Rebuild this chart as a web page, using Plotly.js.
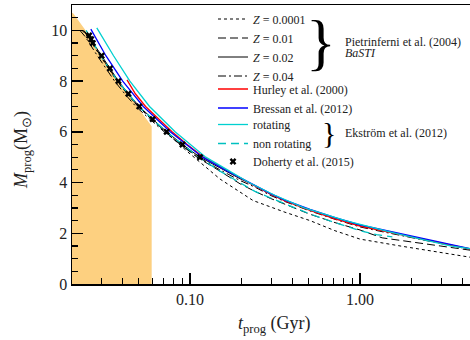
<!DOCTYPE html>
<html>
<head>
<meta charset="utf-8">
<script src="https://cdn.plot.ly/plotly-3.0.1.min.js"></script>
<style>html,body{margin:0;padding:0;overflow:hidden;background:#fff}#chart{width:474px;height:340px}</style>
</head>
<body>
<div id="chart"></div>
<script>
// Shaded region (upper boundary)
const tShade = [0.0202, 0.0206, 0.0241, 0.0309, 0.0388, 0.0486, 0.0582, 0.0595];
const mShade = [10.70, 10.66, 10.03, 8.84, 7.92, 7.00, 6.28, 6.22];

// Pietrinferni et al. (2004) BaSTI
const tZ0001 = [0.0232, 0.0250, 0.0296, 0.0332, 0.0372, 0.0426, 0.0494, 0.0592, 0.0715, 0.0973, 0.150, 0.235, 0.362, 0.508, 0.713, 1.00, 1.72, 2.96, 4.70];
const mZ0001 = [10.0, 9.75, 9.0, 8.5, 8.0, 7.5, 7.0, 6.5, 6.0, 5.2, 4.14, 3.29, 2.83, 2.50, 2.10, 1.77, 1.50, 1.24, 1.03];

const tZ001 = [0.0235, 0.0252, 0.0298, 0.0334, 0.0374, 0.0428, 0.0496, 0.0594, 0.0716, 0.088, 0.110, 0.150, 0.197, 0.241, 0.296, 0.370, 0.508, 0.713, 1.00, 1.35, 1.97, 2.96, 4.70];
const mZ001 = [10.0, 9.75, 9.0, 8.5, 8.0, 7.5, 7.0, 6.5, 6.0, 5.5, 5.0, 4.45, 3.95, 3.65, 3.38, 3.12, 2.75, 2.42, 2.13, 1.82, 1.68, 1.50, 1.31];

const tZ002 = [0.0237, 0.0255, 0.0302, 0.0338, 0.0379, 0.0434, 0.0503, 0.0603, 0.0729, 0.0903, 0.1145, 0.150, 0.197, 0.241, 0.296, 0.362, 0.508, 0.713, 1.00, 1.31, 1.97, 2.96, 4.70];
const mZ002 = [10.0, 9.75, 9.0, 8.5, 8.0, 7.5, 7.0, 6.5, 6.0, 5.5, 5.0, 4.58, 4.15, 3.88, 3.55, 3.29, 2.92, 2.60, 2.30, 2.13, 1.88, 1.63, 1.34];

const tZ004 = [0.0225, 0.0242, 0.0285, 0.0320, 0.0360, 0.0413, 0.0480, 0.0580, 0.0705, 0.088, 0.112, 0.150, 0.197, 0.241, 0.296, 0.362, 0.508, 0.713, 1.00, 1.31, 1.97, 2.96, 4.70];
const mZ004 = [10.0, 9.75, 9.0, 8.5, 8.0, 7.5, 7.0, 6.5, 6.0, 5.5, 5.0, 4.50, 4.08, 3.82, 3.50, 3.25, 2.88, 2.55, 2.25, 2.08, 1.85, 1.60, 1.33];

// Hurley et al. (2000)
const tHurley = [0.0426, 0.0477, 0.0548, 0.0654, 0.0784, 0.0962, 0.1202, 0.163, 0.220, 0.296, 0.362, 0.508, 0.713, 1.00, 1.31, 1.97, 2.96, 4.70];
const mHurley = [8.05, 7.5, 7.0, 6.5, 6.0, 5.5, 5.0, 4.5, 4.0, 3.55, 3.28, 2.90, 2.57, 2.28, 2.11, 1.87, 1.62, 1.35];

// Bressan et al. (2012)
const tBressan = [0.0261, 0.0320, 0.0402, 0.0531, 0.0765, 0.1185, 0.161, 0.241, 0.296, 0.362, 0.508, 0.713, 1.00, 1.31, 1.97, 2.96, 4.70];
const mBressan = [10.05, 9.0, 8.0, 7.0, 6.0, 5.0, 4.5, 3.90, 3.57, 3.31, 2.94, 2.62, 2.33, 2.16, 1.90, 1.65, 1.36];

// Ekström et al. (2012)
const tRot = [0.0283, 0.0355, 0.0443, 0.0578, 0.0817, 0.1237, 0.166, 0.222, 0.315, 0.470, 0.820, 1.62, 3.40, 4.70];
const mRot = [10.1, 9.0, 8.0, 7.0, 6.0, 5.0, 4.5, 4.0, 3.5, 3.0, 2.5, 2.0, 1.5, 1.37];

const tNonRot = [0.0245, 0.0298, 0.0376, 0.0500, 0.0725, 0.113, 0.150, 0.197, 0.241, 0.296, 0.370, 0.508, 0.713, 1.00, 1.25, 1.55];
const mNonRot = [10.0, 9.0, 8.0, 7.0, 6.0, 5.0, 4.45, 3.98, 3.65, 3.40, 3.14, 2.76, 2.42, 2.10, 1.95, 1.86];

// Doherty et al. (2015)
const tDoherty = [0.0255, 0.0262, 0.0268, 0.0302, 0.0338, 0.0379, 0.0434, 0.0503, 0.0603, 0.0729, 0.0903, 0.1145];
const mDoherty = [9.8, 9.65, 9.5, 9.0, 8.5, 8.0, 7.5, 7.0, 6.5, 6.0, 5.5, 5.0];

// Axis ticks
const xTickVals = [0.1, 1];
const xTickText = ['0.10', '1.00'];
const xMinorVals = [0.03, 0.04, 0.05, 0.06, 0.07, 0.08, 0.09, 0.2, 0.3, 0.4, 0.5, 0.6, 0.7, 0.8, 0.9, 2, 3, 4];
const yTickVals = [0, 2, 4, 6, 8, 10];

const FONT = 'Liberation Serif';

const traces = [
  {x: tShade, y: mShade, mode: 'lines', fill: 'tozeroy', fillcolor: 'rgb(253,208,128)', line: {width: 0, color: 'rgb(253,208,128)'}, showlegend: false, hoverinfo: 'skip'},
  {x: tZ0001, y: mZ0001, mode: 'lines', name: '<i>Z</i> = 0.0001', legend: 'legend', line: {color: '#000', width: 1, dash: '3px,3px'}},
  {x: tZ001, y: mZ001, mode: 'lines', name: '<i>Z</i> = 0.01', legend: 'legend', line: {color: '#000', width: 1, dash: '8px,4px'}},
  {x: tZ002, y: mZ002, mode: 'lines', name: '<i>Z</i> = 0.02', legend: 'legend', line: {color: '#000', width: 1}},
  {x: tZ004, y: mZ004, mode: 'lines', name: '<i>Z</i> = 0.04', legend: 'legend', line: {color: '#000', width: 1, dash: '8px,3px,2px,3px'}},
  {x: tHurley, y: mHurley, mode: 'lines', name: 'Hurley et al. (2000)', legend: 'legend2', line: {color: '#ff0000', width: 1.3}},
  {x: tBressan, y: mBressan, mode: 'lines', name: 'Bressan et al. (2012)', legend: 'legend2', line: {color: '#0000ff', width: 1.3}},
  {x: tRot, y: mRot, mode: 'lines', name: 'rotating', legend: 'legend3', line: {color: '#00d0d0', width: 1.3}},
  {x: tNonRot, y: mNonRot, mode: 'lines', name: 'non rotating', legend: 'legend3', line: {color: '#00c0c0', width: 1.3, dash: '8px,5px'}},
  {x: tDoherty, y: mDoherty, mode: 'markers', name: 'Doherty et al. (2015)', legend: 'legend4', marker: {symbol: 'x', size: 6, color: '#000'}}
];

const W = 474, L = 72, T = 5, B = 56;
const pw = W - L, ph = 340 - T - B;
const px = v => (v - L) / pw;
const py = v => (340 - B - v) / ph;

const legendBase = top => ({x: px(213), y: py(top), xanchor: 'left', yanchor: 'top', bgcolor: 'rgba(0,0,0,0)', font: {family: FONT, size: 12, color: '#222'}, tracegroupgap: 0, itemwidth: 30});

const layout = {
  width: W, height: 340,
  margin: {l: L, r: 0, t: T, b: B},
  paper_bgcolor: '#fff', plot_bgcolor: '#fff',
  font: {family: FONT, color: '#222'},
  showlegend: true,
  legend: legendBase(4.5),
  legend2: legendBase(74.5),
  legend3: legendBase(110),
  legend4: legendBase(147),
  xaxis: {
    type: 'log', range: [-1.6941, 0.6706],
    tickmode: 'array', tickvals: xTickVals, ticktext: xTickText,
    ticks: 'inside', ticklen: 11, tickwidth: 1.5, tickcolor: '#000',
    minor: {tickmode: 'array', tickvals: xMinorVals, ticks: 'inside', ticklen: 6, tickwidth: 1.2, tickcolor: '#000', showgrid: false},
    showline: true, linecolor: '#000', linewidth: 1.5, mirror: true,
    showgrid: false, zeroline: false,
    tickfont: {family: FONT, size: 16, color: '#222'}
  },
  yaxis: {
    range: [0, 11],
    tickmode: 'array', tickvals: yTickVals,
    ticks: 'inside', ticklen: 11, tickwidth: 1.5, tickcolor: '#000',
    minor: {dtick: 0.5, ticks: 'inside', ticklen: 6, tickwidth: 1.2, tickcolor: '#000', showgrid: false},
    showline: true, linecolor: '#000', linewidth: 1.5, mirror: true,
    showgrid: false, zeroline: false,
    tickfont: {family: FONT, size: 16, color: '#222'}
  },
  annotations: [
    {xref: 'paper', yref: 'paper', x: px(22), y: py(150), text: '<i>M</i><sub>prog</sub>(M<sub>⊙</sub>)', textangle: -90, showarrow: false, font: {family: FONT, size: 18, color: '#222'}, xanchor: 'center', yanchor: 'middle'},
    {xref: 'paper', yref: 'paper', x: px(274), y: py(324), text: '<i>t</i><sub>prog</sub> (Gyr)', showarrow: false, font: {family: FONT, size: 18, color: '#222'}, xanchor: 'center', yanchor: 'middle'},
    {xref: 'paper', yref: 'paper', x: px(321), y: py(42), text: '}', showarrow: false, font: {family: FONT, size: 62, color: '#000'}, xanchor: 'center', yanchor: 'middle'},
    {xref: 'paper', yref: 'paper', x: px(343), y: py(42), text: 'Pietrinferni et al. (2004)', showarrow: false, font: {family: FONT, size: 12, color: '#222'}, xanchor: 'left', yanchor: 'middle'},
    {xref: 'paper', yref: 'paper', x: px(343), y: py(53), text: '<i>BaSTI</i>', showarrow: false, font: {family: FONT, size: 12, color: '#222'}, xanchor: 'left', yanchor: 'middle'},
    {xref: 'paper', yref: 'paper', x: px(329), y: py(132), text: '}', showarrow: false, font: {family: FONT, size: 30, color: '#000'}, xanchor: 'center', yanchor: 'middle'},
    {xref: 'paper', yref: 'paper', x: px(343), y: py(133), text: 'Ekström et al. (2012)', showarrow: false, font: {family: FONT, size: 12, color: '#222'}, xanchor: 'left', yanchor: 'middle'}
  ]
};

Plotly.newPlot('chart', traces, layout, {displayModeBar: false, staticPlot: true});
</script>
</body>
</html>
